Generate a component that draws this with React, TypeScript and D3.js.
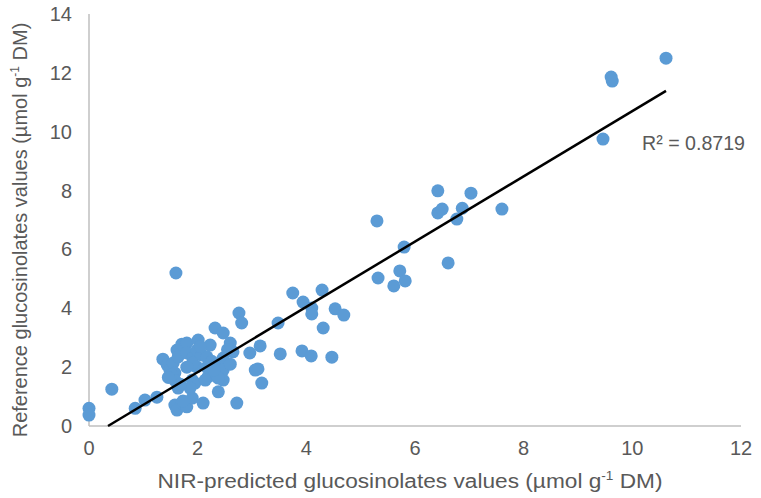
import * as d3 from "d3";

// NIR-predicted (x) vs reference (y) glucosinolate values, µmol g-1 DM
const predicted = [
  0, 0, 0.42, 0.85, 1.03, 1.25, 1.36, 1.44, 1.49, 1.55,
  1.58, 1.52, 1.64, 1.58, 1.62, 1.71, 1.64, 1.58, 1.62, 1.71,
  1.8, 1.9, 2.1, 1.6, 1.8, 1.8, 1.91, 1.98, 1.9, 1.95,
  1.86, 2.01, 1.99, 1.91, 1.8, 2.08, 2.23, 2.17, 2.19, 2.17,
  2.14, 2.32, 2.47, 2.41, 2.36, 2.47, 2.38, 2.47, 2.47, 2.38,
  2.6, 2.65, 2.76, 2.81, 2.72, 2.96, 3.15, 3.11, 3.06, 3.18,
  3.48, 3.52, 3.75, 3.94, 3.92, 4.09, 4.1, 4.1, 4.29, 4.31,
  4.47, 4.53, 4.69, 5.3, 5.32, 5.61, 5.72, 5.8, 5.82, 6.42,
  6.42, 6.5, 6.61, 6.77, 6.87, 7.03, 7.6, 9.46, 9.61, 9.63,
  10.62, 1.46, 1.68, 2.26, 2.55, 2.05, 1.73, 2.6, 2.3,
];
const reference = [
  0.6, 0.37, 1.25, 0.6, 0.88, 0.98, 2.27, 2.07, 1.9, 2.14,
  1.8, 1.75, 1.29, 1.55, 2.58, 2.78, 2.35, 0.71, 0.54, 0.78,
  0.65, 0.95, 0.78, 5.2, 2.82, 2.48, 2.31, 2.01, 1.56, 1.46,
  1.29, 2.92, 2.58, 2.14, 2.0, 2.41, 2.75, 2.35, 1.67, 2.0,
  1.56, 3.33, 3.16, 2.01, 1.67, 1.56, 1.16, 2.31, 1.9, 1.63,
  2.82, 2.52, 3.84, 3.5, 0.78, 2.48, 2.72, 1.94, 1.9, 1.46,
  3.5, 2.45, 4.52, 4.21, 2.55, 2.38, 4.01, 3.81, 4.62, 3.33,
  2.34, 3.98, 3.77, 6.97, 5.03, 4.76, 5.27, 6.08, 4.93, 7.99,
  7.24, 7.37, 5.54, 7.03, 7.4, 7.91, 7.37, 9.75, 11.86, 11.72,
  12.5, 1.65, 1.42, 2.2, 2.6, 2.7, 0.85, 2.1, 1.9,
];
const xTicks = [0, 2, 4, 6, 8, 10, 12];
const yTicks = [0, 2, 4, 6, 8, 10, 12, 14];

// linear trendline as shown on the chart
const trendSlope = 1.109;
const trendIntercept = -0.388;
const r2Label = "R² = 0.8719";

const W = 761;
const H = 498;
const font = "'Liberation Sans', Arial, sans-serif";
const textColor = "#595959";

export default function App() {
  const x = d3.scaleLinear().domain([0, 12]).range([89, 741]);
  const y = d3.scaleLinear().domain([0, 14]).range([426, 14]);

  const pts = predicted.map((p, i) => ({ p, r: reference[i] }));

  // trendline spans the data range, clipped at y = 0
  const xMax = d3.max(predicted) as number;
  const xStart = Math.max(0, -trendIntercept / trendSlope);
  const trend = d3.line<number>()
    .x(d => x(d))
    .y(d => y(trendSlope * d + trendIntercept));

  return (
    <svg width={W} height={H} style={{ position: "absolute", left: 0, top: 0, background: "#fff" }}>
      {/* axes */}
      <line x1={x(0)} x2={x(12)} y1={y(0)} y2={y(0)} stroke="#bfbfbf" strokeWidth={1.5} />
      <line x1={x(0)} x2={x(0)} y1={y(0)} y2={y(14)} stroke="#bfbfbf" strokeWidth={1.5} />

      {yTicks.map(t => (
        <text key={"y" + t} x={72} y={y(t)} dy="0.35em" textAnchor="end"
          fontFamily={font} fontSize={20} fill={textColor}>{t}</text>
      ))}
      {xTicks.map(t => (
        <text key={"x" + t} x={x(t)} y={448} dy="0.35em" textAnchor="middle"
          fontFamily={font} fontSize={20} fill={textColor}>{t}</text>
      ))}

      {/* points */}
      <g fill="#5b9bd5">
        {pts.map((d, i) => (
          <circle key={i} cx={x(d.p)} cy={y(d.r)} r={6.5} />
        ))}
      </g>

      <path d={trend([xStart, xMax]) ?? ""} fill="none" stroke="#000" strokeWidth={2.5} />

      <text x={642} y={143} dy="0.35em" fontFamily={font} fontSize={20} fill={textColor}
        textLength={103} lengthAdjust="spacingAndGlyphs">{r2Label}</text>

      {/* axis titles */}
      <text x={410} y={481} dy="0.35em" textAnchor="middle" fontFamily={font} fontSize={20} fill={textColor}
        textLength={505} lengthAdjust="spacingAndGlyphs">
        NIR-predicted glucosinolates values (µmol g<tspan fontSize={12} dy="-8">-1</tspan>
        <tspan dy="8"> DM)</tspan>
      </text>
      <text transform={`translate(20,230) rotate(-90)`} dy="0.35em" textAnchor="middle"
        fontFamily={font} fontSize={20} fill={textColor}>
        Reference glucosinolates values (µmol g<tspan fontSize={12} dy="-8">-1</tspan>
        <tspan dy="8"> DM)</tspan>
      </text>
    </svg>
  );
}
